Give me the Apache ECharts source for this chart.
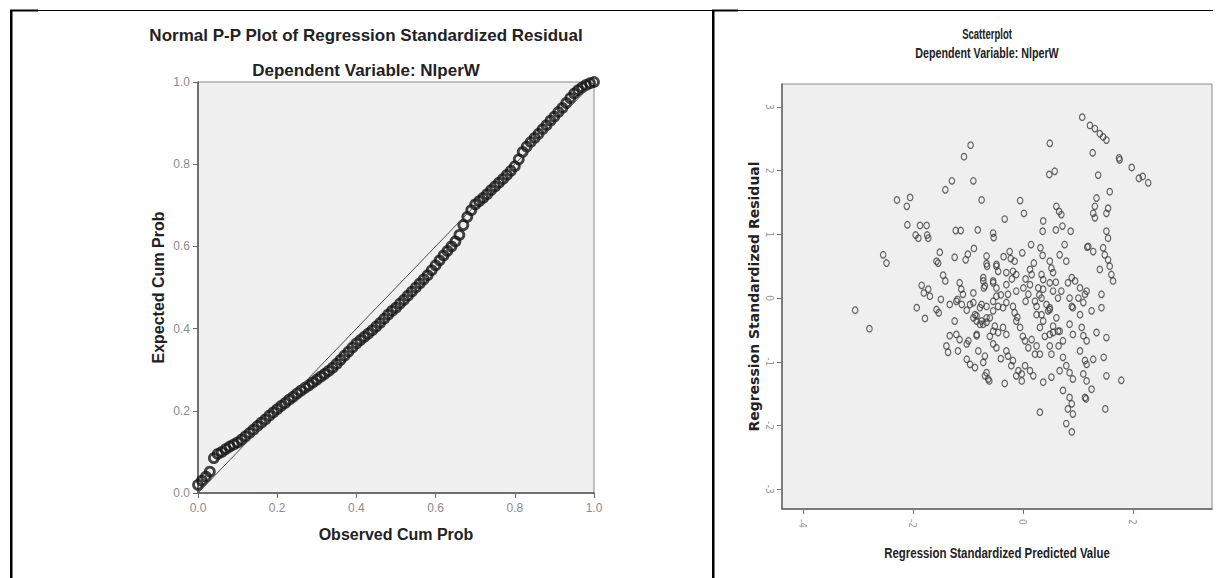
<!DOCTYPE html>
<html lang="en">
    <head>
        <meta charset="utf-8">
        <title>Normal P-P Plot and Scatterplot - NlperW</title>
        <style>
            html, body { margin: 0; padding: 0; background: #fff; }
        </style>
    </head>
    <body>
        <div id="main" style="width: 1218px;height:578px;"></div>
        <script src="https://cdn.jsdelivr.net/npm/echarts@6/dist/echarts.min.js"></script>
        <script type="text/javascript">
            // P-P plot: [observed cum prob, expected cum prob]
            var ppPoints = [
                [0.00, 0.020], [0.01, 0.030], [0.02, 0.040], [0.03, 0.052], [0.04, 0.085],
                [0.05, 0.095], [0.06, 0.100], [0.07, 0.107], [0.08, 0.113], [0.09, 0.118],
                [0.10, 0.123], [0.11, 0.130], [0.12, 0.138], [0.13, 0.146], [0.14, 0.154],
                [0.15, 0.163], [0.16, 0.171], [0.17, 0.179], [0.18, 0.188], [0.19, 0.196],
                [0.20, 0.204], [0.21, 0.212], [0.22, 0.219], [0.23, 0.227], [0.24, 0.234],
                [0.25, 0.242], [0.26, 0.249], [0.27, 0.256], [0.28, 0.262], [0.29, 0.269],
                [0.30, 0.276], [0.31, 0.283], [0.32, 0.290], [0.33, 0.297], [0.34, 0.305],
                [0.35, 0.314], [0.36, 0.324], [0.37, 0.334], [0.38, 0.344], [0.39, 0.354],
                [0.40, 0.364], [0.41, 0.372], [0.42, 0.380], [0.43, 0.388], [0.44, 0.396],
                [0.45, 0.405], [0.46, 0.414], [0.47, 0.424], [0.48, 0.434], [0.49, 0.443],
                [0.50, 0.451], [0.51, 0.461], [0.52, 0.470], [0.53, 0.480], [0.54, 0.490],
                [0.55, 0.500], [0.56, 0.510], [0.57, 0.520], [0.58, 0.530], [0.59, 0.542],
                [0.60, 0.554], [0.61, 0.566], [0.62, 0.578], [0.63, 0.589], [0.64, 0.600],
                [0.65, 0.612], [0.66, 0.628], [0.67, 0.652], [0.68, 0.672], [0.69, 0.688],
                [0.70, 0.702], [0.71, 0.710], [0.72, 0.718], [0.73, 0.727], [0.74, 0.737],
                [0.75, 0.746], [0.76, 0.755], [0.77, 0.764], [0.78, 0.774], [0.79, 0.784],
                [0.80, 0.795], [0.81, 0.812], [0.82, 0.830], [0.83, 0.843], [0.84, 0.854],
                [0.85, 0.864], [0.86, 0.874], [0.87, 0.885], [0.88, 0.895], [0.89, 0.906],
                [0.90, 0.916], [0.91, 0.927], [0.92, 0.937], [0.93, 0.949], [0.94, 0.961],
                [0.95, 0.972], [0.96, 0.980], [0.97, 0.987], [0.98, 0.993], [0.99, 0.997],
                [1.00, 1.000]
            ];
            var refLine = [[0, 0], [1, 1]];

            // scatterplot: [standardized predicted value, standardized residual]
            var residPoints = [
                [-0.95, 2.40], [-1.07, 2.22], [-1.29, 1.84], [-1.41, 1.70], [-0.90, 1.84], [-0.75, 1.54],
                [-2.29, 1.54], [-2.05, 1.58], [-2.11, 1.44], [-2.10, 1.15], [-1.87, 1.14], [-1.75, 1.14],
                [-1.95, 0.99], [-1.90, 0.94], [-1.74, 0.99], [-1.72, 0.94], [-1.22, 1.06], [-1.13, 1.06],
                [-0.82, 1.07], [-0.54, 1.02], [-0.53, 0.95], [-2.54, 0.68], [-2.48, 0.55], [-1.51, 0.72],
                [-1.57, 0.58], [-1.54, 0.55], [-1.24, 0.64], [-1.04, 0.60], [-1.00, 0.69], [-0.89, 0.78],
                [-0.66, 0.66], [-0.66, 0.54], [-0.65, 0.50], [-0.48, 0.53], [-1.45, 0.36], [-1.41, 0.27],
                [-1.84, 0.20], [-1.80, 0.08], [-1.72, 0.14], [-1.69, 0.03], [-1.49, -0.02], [-1.15, 0.24],
                [-1.12, 0.14], [-1.09, 0.06], [-1.19, -0.02], [-0.90, 0.08], [-0.72, 0.27], [-0.71, 0.16],
                [-0.54, 0.27], [-3.05, -0.19], [-2.79, -0.48], [-1.93, -0.15], [-1.78, -0.32], [-1.57, -0.18],
                [-1.53, -0.23], [-1.24, -0.36], [-1.02, -0.19], [-0.96, -0.10], [-0.87, -0.26], [-0.78, -0.15],
                [-0.84, -0.36], [-0.66, -0.31], [-1.21, -0.57], [-1.33, -0.59], [-1.15, -0.65], [-1.39, -0.75],
                [-1.36, -0.85], [-1.18, -0.83], [-1.02, -0.72], [-0.99, -0.67], [-0.84, -0.59], [-1.02, -0.96],
                [-0.87, -1.09], [-0.81, -0.83], [-0.69, -0.91], [-0.72, -1.01], [-0.66, -1.17], [-0.69, -1.22],
                [-0.61, -1.30], [-0.54, -0.72], [-0.54, -0.52], [-0.90, -0.31], [-0.78, -0.41], [-0.66, -0.38],
                [0.49, 2.43], [0.48, 1.94], [0.58, 1.99], [-0.05, 1.53], [0.02, 1.33], [-0.33, 1.24],
                [0.37, 1.21], [0.61, 1.44], [0.66, 1.36], [0.70, 1.31], [0.36, 1.05], [0.60, 1.07],
                [0.72, 1.13], [0.87, 1.05], [0.76, 0.84], [1.17, 0.80], [-0.24, 0.73], [-0.22, 0.62],
                [-0.15, 0.58], [-0.01, 0.71], [0.15, 0.84], [0.32, 0.79], [0.36, 0.67], [0.49, 0.58],
                [0.52, 0.47], [0.67, 0.68], [0.79, 0.58], [-0.48, 0.50], [-0.45, 0.42], [-0.30, 0.40],
                [-0.18, 0.42], [-0.12, 0.37], [0.13, 0.45], [0.16, 0.37], [0.34, 0.37], [0.37, 0.29],
                [0.55, 0.40], [0.49, 0.24], [0.82, 0.24], [0.89, 0.32], [1.04, 0.16], [-0.72, 0.32],
                [-0.69, 0.19], [-0.54, 0.24], [-0.48, 0.16], [-0.48, 0.03], [-0.30, 0.21], [-0.27, 0.06],
                [-0.12, 0.11], [0.01, 0.16], [0.13, 0.21], [0.10, 0.06], [0.28, 0.16], [0.37, 0.14],
                [0.34, 0.00], [0.55, 0.11], [0.64, 0.00], [0.70, 0.11], [-1.33, -0.10], [-1.21, -0.05],
                [-1.11, -0.10], [-0.90, -0.07], [-0.75, -0.10], [-0.66, -0.13], [-0.54, -0.05], [-0.45, -0.13],
                [-0.36, -0.15], [-0.30, -0.07], [-0.18, -0.13], [0.22, -0.05], [0.25, -0.13], [0.43, -0.10],
                [0.49, -0.15], [0.85, 0.00], [1.01, 0.00], [1.13, 0.06], [1.16, 0.11], [-0.84, -0.28],
                [-0.75, -0.36], [-0.72, -0.41], [-0.60, -0.31], [-0.54, -0.20], [-0.84, -0.57], [-0.51, -0.44],
                [-0.45, -0.54], [-0.36, -0.46], [-0.30, -0.57], [-0.48, -0.78], [-0.15, -0.23], [-0.12, -0.36],
                [-0.05, -0.46], [-0.30, -0.83], [-0.27, -0.91], [-0.18, -0.98], [-0.21, -1.06], [-0.12, -1.22],
                [-0.08, -1.14], [-0.02, -1.19], [-0.33, -1.34], [0.04, -0.67], [0.10, -0.78], [0.16, -0.65],
                [0.25, -0.75], [0.22, -0.88], [0.04, -1.06], [0.13, -1.14], [0.19, -1.22], [0.37, -1.32],
                [0.31, -0.46], [0.37, -0.36], [0.49, -0.57], [0.55, -0.44], [0.64, -0.52], [0.25, -0.26],
                [0.49, -0.18], [0.61, -0.31], [0.49, -0.75], [0.52, -0.88], [0.73, -0.93], [0.79, -1.06],
                [0.85, -1.17], [0.91, -1.27], [0.73, -1.45], [0.85, -1.56], [0.89, -1.66], [0.82, -1.74],
                [0.91, -1.82], [0.79, -1.97], [0.89, -2.10], [0.31, -1.79], [0.85, -0.41], [0.91, -0.57],
                [1.07, -0.46], [1.10, -0.59], [1.04, -0.83], [1.13, -0.98], [1.16, -1.04], [1.10, -1.19],
                [1.16, -1.30], [1.13, -1.56], [0.89, -0.13], [1.10, -0.07], [1.04, -0.26], [1.08, 2.84],
                [1.22, 2.71], [1.31, 2.66], [1.40, 2.58], [1.46, 2.53], [1.52, 2.48], [1.27, 2.28],
                [1.75, 2.20], [1.76, 2.17], [1.98, 2.05], [2.11, 1.88], [2.18, 1.91], [2.28, 1.81],
                [1.37, 1.93], [1.34, 1.57], [1.31, 1.44], [1.28, 1.33], [1.31, 1.26], [1.58, 1.67],
                [1.55, 1.41], [1.52, 1.33], [1.52, 1.05], [1.55, 0.94], [1.19, 0.81], [1.28, 0.73],
                [1.46, 0.79], [1.49, 0.68], [1.55, 0.60], [1.58, 0.50], [1.61, 0.37], [1.64, 0.27],
                [1.40, 0.45], [0.95, 0.27], [1.43, 0.06], [1.43, -0.15], [1.25, -0.20], [1.52, -0.62],
                [1.47, -0.93], [1.52, -1.22], [1.79, -1.29], [1.50, -1.74], [1.34, -0.54], [1.16, -0.67],
                [1.28, -0.96], [1.25, -1.43], [1.15, -1.58], [-0.96, -1.04], [-0.63, -1.27], [-0.02, -1.30],
                [0.52, -1.24], [0.67, -1.14], [0.31, -0.88], [0.55, -0.54], [0.67, -0.52], [0.73, -0.67],
                [0.34, -0.26], [0.46, -0.20], [0.91, -0.15], [-0.40, 0.05], [-0.20, 0.30], [0.05, 0.30],
                [0.20, 0.55], [-0.10, -0.30], [0.00, -0.60], [0.40, -0.60], [-0.60, -0.60], [0.60, 0.25],
                [-0.35, 0.65], [0.05, -0.05], [0.65, -0.75], [-0.40, -0.95], [0.30, 0.05]
            ];
            var predTicks = [-4, -2, 0, 2];
            var residTicks = [-3, -2, -1, 0, 1, 2, 3];

            var myChart = echarts.init(document.getElementById('main'), null, {renderer: 'svg'});

            var sansFont = '"Liberation Sans", Arial, sans-serif';

            myChart.setOption({
                backgroundColor: '#fff',
                animation: false,
                grid: [{
                        left: 198, top: 82, width: 396, height: 411,
                        show: true,
                        backgroundColor: '#f0f0f0',
                        borderColor: '#8a8a8a',
                        borderWidth: 1
                    }, {
                        left: 782, top: 84, width: 430, height: 425,
                        show: true,
                        backgroundColor: '#efefef',
                        borderColor: '#8a8a8a',
                        borderWidth: 1
                    }],
                xAxis: [{
                        gridIndex: 0,
                        type: 'value',
                        min: 0, max: 1, interval: 0.2,
                        name: 'Observed Cum Prob',
                        nameLocation: 'middle',
                        nameGap: 33,
                        nameTextStyle: {fontFamily: sansFont, fontWeight: 'bold', fontSize: 16, color: '#222'},
                        axisLine: {onZero: false, lineStyle: {color: '#555', width: 1.5}},
                        axisTick: {length: 5, lineStyle: {color: '#666'}},
                        axisLabel: {
                            margin: 9, fontSize: 12, color: '#8a8a8a', fontFamily: sansFont,
                            formatter: function(v) { return v.toFixed(1); }
                        },
                        splitLine: {show: false}
                    }, {
                        gridIndex: 1,
                        type: 'value',
                        min: -4.38, max: 3.44,
                        axisLine: {onZero: false, lineStyle: {color: '#666', width: 1.5}},
                        axisTick: {length: 5, customValues: predTicks, lineStyle: {color: '#777'}},
                        axisLabel: {
                            customValues: predTicks, rotate: -90, margin: 10,
                            fontSize: 10, color: '#999', fontFamily: '"DejaVu Sans Condensed", sans-serif'
                        },
                        splitLine: {show: false}
                    }],
                yAxis: [{
                        gridIndex: 0,
                        type: 'value',
                        min: 0, max: 1, interval: 0.2,
                        name: 'Expected Cum Prob',
                        nameLocation: 'middle',
                        nameGap: 32,
                        nameTextStyle: {fontFamily: sansFont, fontWeight: 'bold', fontSize: 16, color: '#222'},
                        axisLine: {onZero: false, lineStyle: {color: '#555', width: 1.5}},
                        axisTick: {length: 5, lineStyle: {color: '#666'}},
                        axisLabel: {
                            margin: 8, fontSize: 12, color: '#8a8a8a', fontFamily: sansFont,
                            formatter: function(v) { return v.toFixed(1); }
                        },
                        splitLine: {show: false}
                    }, {
                        gridIndex: 1,
                        type: 'value',
                        min: -3.31, max: 3.36,
                        name: 'Regression Standardized Residual',
                        nameLocation: 'middle',
                        nameGap: 21,
                        nameTextStyle: {fontFamily: '"DejaVu Sans", sans-serif', fontWeight: 'bold', fontSize: 14, color: '#222'},
                        axisLine: {onZero: false, lineStyle: {color: '#666', width: 1.5}},
                        axisTick: {length: 5, customValues: residTicks, lineStyle: {color: '#777'}},
                        axisLabel: {
                            customValues: residTicks, rotate: -90, margin: 8,
                            fontSize: 10, color: '#999', fontFamily: '"DejaVu Sans Condensed", sans-serif'
                        },
                        splitLine: {show: false}
                    }],
                series: [{
                        type: 'scatter',
                        xAxisIndex: 0, yAxisIndex: 0,
                        symbol: 'circle',
                        symbolSize: 9,
                        itemStyle: {color: 'transparent', borderColor: '#151515', borderWidth: 2.8},
                        data: ppPoints,
                        z: 2
                    }, {
                        type: 'line',
                        xAxisIndex: 0, yAxisIndex: 0,
                        symbol: 'none',
                        lineStyle: {color: '#4a4a4a', width: 1},
                        data: refLine,
                        z: 3
                    }, {
                        type: 'scatter',
                        xAxisIndex: 1, yAxisIndex: 1,
                        symbol: 'circle',
                        symbolSize: [5.5, 6.5],
                        itemStyle: {color: 'transparent', borderColor: '#3c3c3c', borderWidth: 1.2},
                        data: residPoints
                    }],
                graphic: [
                    // table rules round the two charts
                    {type: 'rect', shape: {x: 10, y: 10, width: 1203, height: 1}, style: {fill: '#000'}},
                    {type: 'rect', shape: {x: 10, y: 9.5, width: 28, height: 2}, style: {fill: '#000'}},
                    {type: 'rect', shape: {x: 712, y: 9.5, width: 26, height: 2}, style: {fill: '#000'}},
                    {type: 'rect', shape: {x: 10, y: 10, width: 2.5, height: 568}, style: {fill: '#000'}},
                    {type: 'rect', shape: {x: 712, y: 10, width: 2.5, height: 568}, style: {fill: '#000'}},
                    // titles
                    {type: 'text', x: 366, y: 35, style: {
                            text: 'Normal P-P Plot of Regression Standardized Residual',
                            textAlign: 'center', textVerticalAlign: 'middle',
                            font: 'bold 17px ' + sansFont, fill: '#222'}},
                    {type: 'text', x: 366, y: 70, style: {
                            text: 'Dependent Variable: NlperW',
                            textAlign: 'center', textVerticalAlign: 'middle',
                            font: 'bold 17px ' + sansFont, fill: '#222'}},
                    {type: 'text', x: 987, y: 34, scaleX: 0.68, style: {
                            text: 'Scatterplot',
                            textAlign: 'center', textVerticalAlign: 'middle',
                            font: 'bold 14px ' + sansFont, fill: '#222'}},
                    {type: 'text', x: 987, y: 54, scaleX: 0.765, style: {
                            text: 'Dependent Variable: NlperW',
                            textAlign: 'center', textVerticalAlign: 'middle',
                            font: 'bold 14px ' + sansFont, fill: '#222'}},
                    // x-axis name of the scatterplot, squeezed like the original
                    {type: 'text', x: 997, y: 553, scaleX: 0.8, style: {
                            text: 'Regression Standardized Predicted Value',
                            textAlign: 'center', textVerticalAlign: 'middle',
                            font: 'bold 14.3px ' + sansFont, fill: '#222'}}
                ]
            });
        </script>
    </body>
</html>
